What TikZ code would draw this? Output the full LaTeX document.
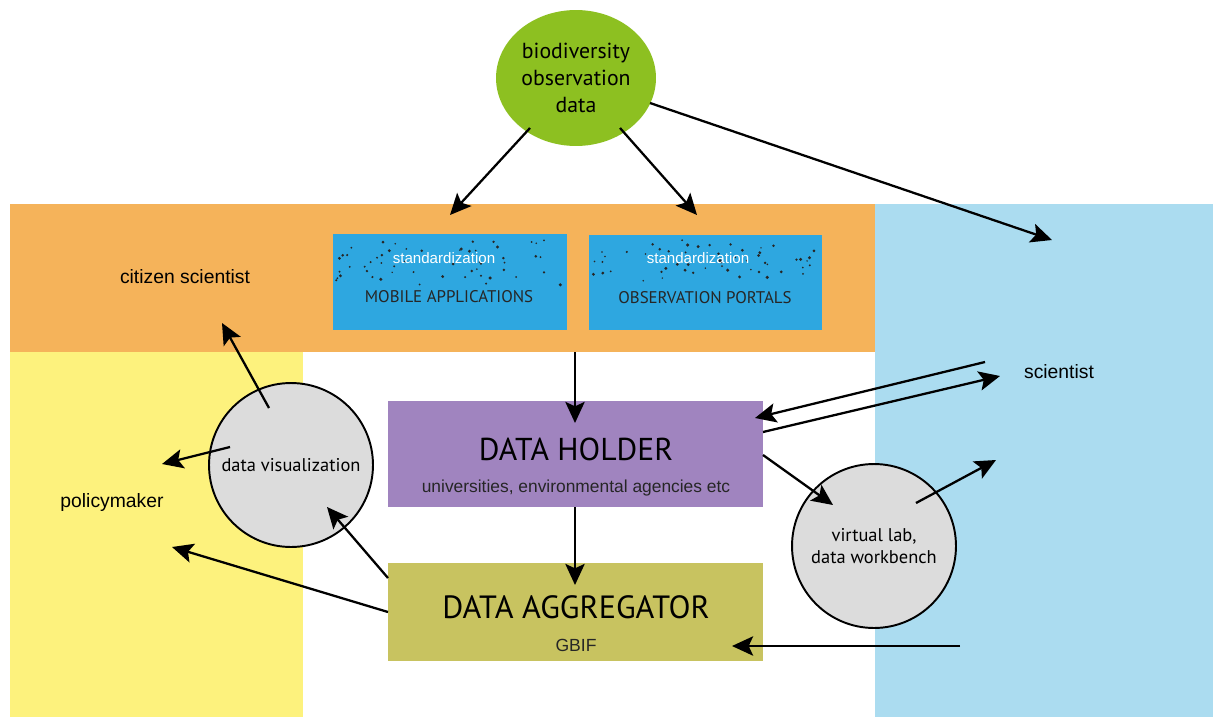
\documentclass[tikz,border=0pt]{standalone}
\usepackage{fontspec}
\setmainfont{Liberation Sans}
\newfontfamily\myr{PT Sans}
\usetikzlibrary{arrows.meta,shapes.geometric}
\definecolor{bandorange}{HTML}{F5B35A}
\definecolor{bandyellow}{HTML}{FDF27D}
\definecolor{bandblue}{HTML}{ABDCF0}
\definecolor{leafgreen}{HTML}{8DC021}
\definecolor{appblue}{HTML}{2EA7E0}
\definecolor{holderpurple}{HTML}{A084BF}
\definecolor{aggolive}{HTML}{C8C360}
\definecolor{toolgrey}{HTML}{DCDCDC}
\tikzset{
  flow/.style={line width=1.3pt, -{Stealth[length=12pt,width=11pt,inset=2.5pt]}},
  appbox/.style={fill=appblue, draw=none, minimum width=4.68cm, minimum height=1.92cm, inner sep=0pt},
  stagebox/.style={draw=none, minimum width=7.5cm, inner sep=0pt},
  toolcircle/.style={circle, draw, line width=1.1pt, fill=toolgrey, minimum size=3.28cm, inner sep=0pt, align=center, font=\myr\fontsize{10.5}{13}\selectfont},
  role/.style={font=\fontsize{11}{13}\selectfont, inner sep=0pt}
}
\begin{document}
\begin{tikzpicture}[x=0.02cm, y=-0.02cm]
\useasboundingbox (0,0) rectangle (1213,717);
\fill[white] (0,0) rectangle (1213,717);
% background bands for the three user groups
\fill[bandorange] (10,204) rectangle (875,352);
\fill[bandyellow] (10,352) rectangle (303,717);
\fill[bandblue] (875,204) rectangle (1213,717);

% data source
\node[ellipse, fill=leafgreen, minimum width=3.2cm, minimum height=2.72cm, inner sep=0pt, align=center,
  font=\myr\fontsize{12.4}{15.5}\selectfont] (bio) at (576,78) {biodiversity\\observation\\data};

% entry points
\node[appbox] (mob) at (450,282) {};
\node[appbox] (por) at (705.5,282.5) {};
% speckle of raw records above each standardization label
\pgfmathsetseed{11}
\foreach \bx in {336,592}{
  \foreach \k in {1,...,55}{
    \pgfmathsetmacro{\dx}{\bx+rnd*228}
    \pgfmathsetmacro{\dy}{240+rnd*46}
    \pgfmathsetmacro{\dr}{0.45+0.55*rnd}
    \fill[black!85] (\dx,\dy) circle[radius=\dr pt];
  }
}
\node[text=white, font=\fontsize{8.6}{10}\selectfont, inner sep=0pt] at (444,258) {standardization};
\node[text=white, font=\fontsize{8.6}{10}\selectfont, inner sep=0pt] at (698,258) {standardization};
\node[font=\myr\fontsize{9.6}{11}\selectfont, inner sep=0pt, text=black!85] at (449,297) {MOBILE APPLICATIONS};
\node[font=\myr\fontsize{9.6}{11}\selectfont, inner sep=0pt, text=black!85] at (705,298) {OBSERVATION PORTALS};

% data holder and aggregator
\node[stagebox, fill=holderpurple, minimum height=2.12cm] (hold) at (575.5,454) {};
\node[font=\myr\fontsize{18}{21}\selectfont, inner sep=0pt] at (576,449) {DATA HOLDER};
\node[font=\fontsize{9.9}{12}\selectfont, inner sep=0pt, text=black!85] at (576,488) {universities, environmental agencies etc};
\node[stagebox, fill=aggolive, minimum height=1.96cm] (agg) at (575.5,612) {};
\node[font=\myr\fontsize{18.3}{21}\selectfont, inner sep=0pt] at (576,607) {DATA AGGREGATOR};
\node[font=\fontsize{10}{12}\selectfont, inner sep=0pt, text=black!85] at (576,645) {GBIF};

% tools
\node[toolcircle] (vis) at (291,465) {data visualization};
\node[toolcircle] (lab) at (874,546) {virtual lab,\\data workbench};

% user groups
\node[role] (cit) at (185,277) {citizen scientist};
\node[role] (pol) at (112,502) {policymaker};
\node[role] (sci) at (1059,372) {scientist};

% free ends of connectors
\coordinate (bioL) at (530,128);
\coordinate (bioR) at (620,128);
\coordinate (bioE) at (650,103);
\coordinate (mobT) at (450,215);
\coordinate (porT) at (697,215);
\coordinate (sciT) at (1052,240);
\coordinate (sciA) at (985,362);
\coordinate (sciB) at (1000,376);
\coordinate (sciC) at (996,460);
\coordinate (sciD) at (960,646);
\coordinate (holdIn) at (755,418);
\coordinate (holdOut) at (763,432);
\coordinate (holdLab) at (763,455);
\coordinate (labIn) at (833,505);
\coordinate (labOut) at (916,503);
\coordinate (aggIn) at (732,646);
\coordinate (aggV) at (388,578);
\coordinate (aggP) at (388,612);
\coordinate (visIn) at (327,507);
\coordinate (polIn) at (172,547);
\coordinate (visP) at (230,447);
\coordinate (polV) at (162,464);
\coordinate (visC) at (269,408);
\coordinate (citIn) at (222,323);
\coordinate (bandTop) at (575,352);
\coordinate (holdTop) at (575,423);
\coordinate (holdBot) at (575,507);
\coordinate (aggTop) at (575,585);

% connectors
\draw[flow] (bioL) -- (mobT);
\draw[flow] (bioR) -- (porT);
\draw[flow] (bioE) -- (sciT);
\draw[flow] (bandTop) -- (holdTop);
\draw[flow] (holdBot) -- (aggTop);
\draw[flow] (sciA) -- (holdIn);
\draw[flow] (holdOut) -- (sciB);
\draw[flow] (holdLab) -- (labIn);
\draw[flow] (labOut) -- (sciC);
\draw[flow] (sciD) -- (aggIn);
\draw[flow] (aggV) -- (visIn);
\draw[flow] (aggP) -- (polIn);
\draw[flow] (visP) -- (polV);
\draw[flow] (visC) -- (citIn);
\end{tikzpicture}
\end{document}
